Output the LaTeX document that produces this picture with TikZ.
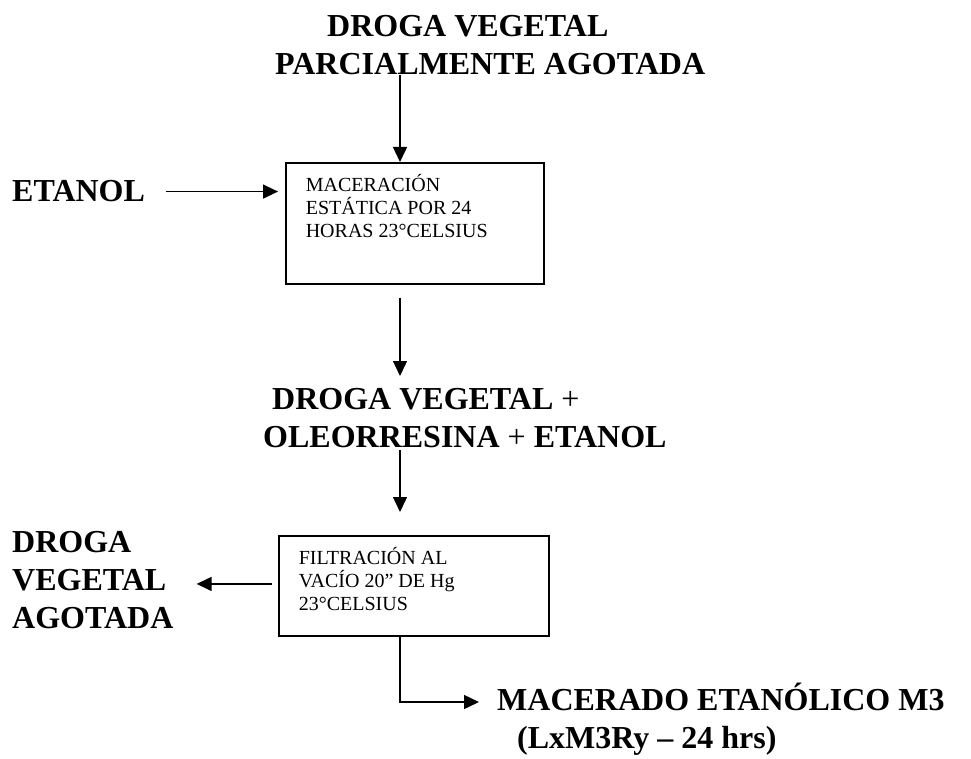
\documentclass[tikz,border=0pt]{standalone}
\usepackage{fontspec}
\setmainfont{Liberation Serif}
\usetikzlibrary{arrows.meta, positioning}

\begin{document}
\begin{tikzpicture}[
    x=1pt, y=-1pt,
    lbl/.style={font=\fontsize{32}{38}\selectfont\bfseries, align=left, inner sep=0pt},
    box/.style={draw, line width=1.6pt, inner xsep=20pt, inner ysep=12pt,
                font=\fontsize{20}{23}\selectfont},
    arr/.style={-{Triangle[length=15pt, width=14pt]}, line width=1.4pt},
  ]
  \useasboundingbox (0,0) rectangle (971,759);

  \coordinate (spine) at (400,0);

  \node[lbl, anchor=north west] (dveg) at (275,15)
    {\hspace*{52pt}DROGA VEGETAL\\PARCIALMENTE AGOTADA};

  \node[lbl, anchor=base west] (etanol) at (12,202) {ETANOL};

  \node[box, anchor=north west] (mac) at (285,162)
    {\parbox[c][97pt][t]{218pt}{\raggedright MACERACIÓN\\ESTÁTICA POR 24\\HORAS 23°CELSIUS}};

  \node[lbl, anchor=north west] (mezcla) at (263,388)
    {\hspace*{9pt}DROGA VEGETAL \textmd{+}\\OLEORRESINA \textmd{+} ETANOL};

  \node[box, anchor=north west] (filt) at (278,535)
    {\parbox[c][76pt][t]{230pt}{\raggedright FILTRACIÓN AL\\VACÍO 20” DE Hg\\23°CELSIUS}};

  \node[lbl, anchor=north west] (agot) at (12,531) {DROGA\\VEGETAL\\AGOTADA};

  \node[lbl, anchor=north west] (macm3) at (497,683)
    {MACERADO ETANÓLICO M3\\\hspace*{20pt}(LxM3Ry – 24 hrs)};

  \coordinate (elbow) at (400,702);
  \coordinate (agotarr) at ([shift={(23pt,-4pt)}]agot.east);

  \draw[arr] (dveg.south -| spine) -- (mac.north -| spine);
  \draw[arr, shorten >=7pt] ([xshift=21pt]etanol.east) -- (etanol -| mac.west);
  \draw[arr, shorten <=13pt, shorten >=12pt] (mac.south -| spine) -- (mezcla.north -| spine);
  \draw[arr, shorten <=2pt, shorten >=23pt] (mezcla.south -| spine) -- (filt.north -| spine);
  \draw[arr, shorten <=6pt] (filt.west |- agotarr) -- (agotarr);
  \draw[arr, shorten >=18pt] (filt.south -| spine) -- (elbow) -- (elbow -| macm3.west);

\end{tikzpicture}
\end{document}
